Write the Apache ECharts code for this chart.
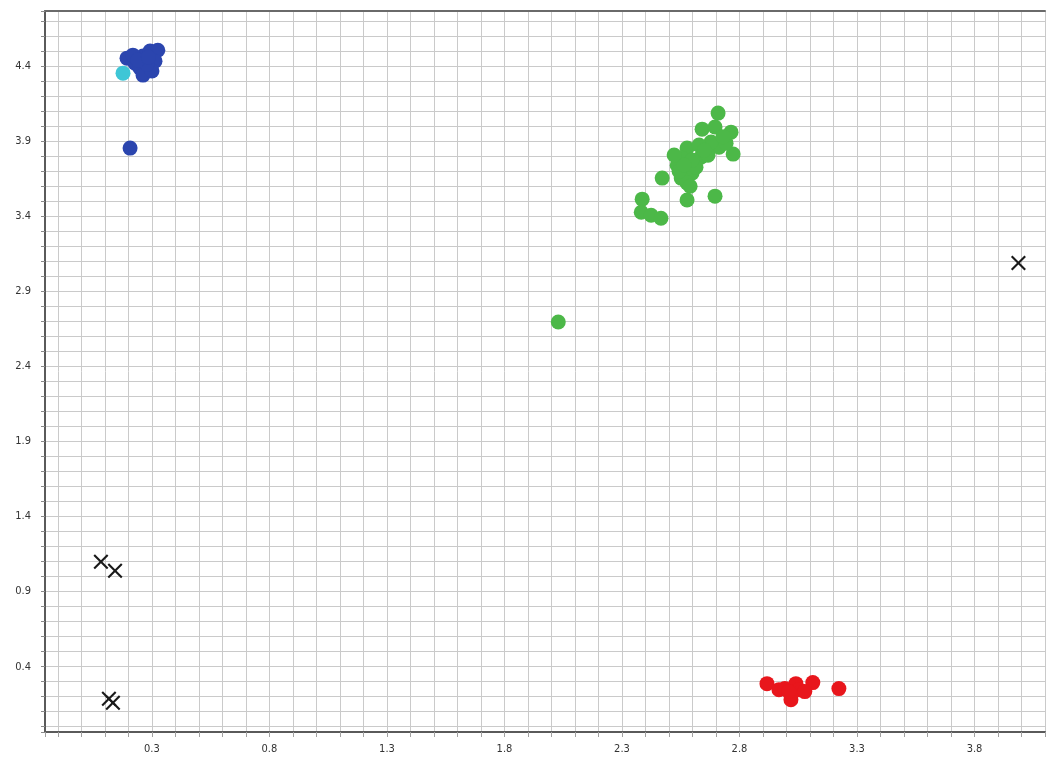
<!DOCTYPE html>
<html>
<head>
<meta charset="utf-8">
<script src="https://cdn.jsdelivr.net/npm/echarts@6/dist/echarts.min.js"></script>
<style>
  html, body { margin: 0; padding: 0; background: #ffffff; }
  #chart { width: 1048px; height: 762px; }
</style>
</head>
<body>
<div id="chart"></div>
<script>
// Cluster points as [x, y]
const bluePoints = [
  [0.194, 4.453], [0.228, 4.420], [0.262, 4.467], [0.292, 4.500], [0.325, 4.506],
  [0.313, 4.433], [0.249, 4.387], [0.262, 4.340], [0.300, 4.367], [0.279, 4.413],
  [0.219, 4.473], [0.240, 4.440], [0.285, 4.460],
  [0.207, 3.854]
];
const cyanPoints = [
  [0.177, 4.353]
];
const greenPoints = [
  [2.709, 4.087], [2.641, 3.980], [2.696, 3.994], [2.764, 3.960], [2.773, 3.814],
  [2.713, 3.860], [2.679, 3.894], [2.636, 3.794], [2.577, 3.854], [2.556, 3.787],
  [2.535, 3.740], [2.598, 3.687], [2.552, 3.654], [2.577, 3.621], [2.471, 3.654],
  [2.577, 3.508], [2.696, 3.534], [2.386, 3.514], [2.382, 3.427], [2.424, 3.407],
  [2.466, 3.387], [2.666, 3.807], [2.615, 3.727], [2.543, 3.700], [2.743, 3.887],
  [2.598, 3.774], [2.564, 3.741], [2.628, 3.874], [2.522, 3.808], [2.590, 3.600],
  [2.650, 3.840], [2.730, 3.930],
  [2.029, 2.696]
];
const redPoints = [
  [2.917, 0.287], [2.968, 0.247], [2.993, 0.254], [3.040, 0.287], [3.019, 0.180],
  [3.053, 0.247], [3.112, 0.294], [3.223, 0.254], [3.078, 0.234], [3.010, 0.234]
];
const crossPoints = [
  [0.083, 1.099], [0.143, 1.039], [0.117, 0.187], [0.134, 0.160], [3.987, 3.089]
];

// Axis labels printed every 0.5
const xTickLabels = ['0.3', '0.8', '1.3', '1.8', '2.3', '2.8', '3.3', '3.8'];
const yTickLabels = ['0.4', '0.9', '1.4', '1.9', '2.4', '2.9', '3.4', '3.9', '4.4'];

const X_MIN = -0.155, X_MAX = 4.10;
const Y_MIN = -0.035, Y_MAX = 4.767;

const labelFont = "'Liberation Sans Narrow', 'Arial Narrow', 'DejaVu Sans Condensed', sans-serif";

// Show a tick label only when the tick sits on the 0.1 grid and is in the list
function pickLabel(list) {
  return function (v) {
    if (Math.abs(v * 10 - Math.round(v * 10)) > 1e-6) return '';
    const s = (Math.round(v * 10) / 10).toFixed(1);
    return list.indexOf(s) >= 0 ? s : '';
  };
}

// X-shaped marker outline (filled polygon)
const crossPath = 'path://M0,1.6L1.6,0L8,6.4L14.4,0L16,1.6L9.6,8L16,14.4L14.4,16L8,9.6L1.6,16L0,14.4L6.4,8Z';

const chart = echarts.init(document.getElementById('chart'), null, { renderer: 'canvas' });

function dotSeries(data, color) {
  return {
    type: 'scatter',
    data: data,
    symbol: 'circle',
    symbolSize: 15,
    itemStyle: { color: color, opacity: 1 },
    emphasis: { disabled: true },
    silent: true
  };
}

chart.setOption({
  animation: false,
  backgroundColor: '#ffffff',
  grid: { left: 45, right: 0, top: 11, bottom: 30, containLabel: false },
  xAxis: [{
    type: 'value',
    min: X_MIN,
    max: X_MAX,
    splitNumber: 42,
    position: 'bottom',
    axisLine: { show: true, onZero: false, lineStyle: { color: '#5a5a5a', width: 2 } },
    axisTick: { show: true, length: 5, lineStyle: { color: '#a0a0a0', width: 1 } },
    axisLabel: {
      show: true, margin: 12, color: '#333333', fontSize: 11, fontFamily: labelFont,
      formatter: pickLabel(xTickLabels), showMinLabel: true, showMaxLabel: true
    },
    splitLine: { show: true, lineStyle: { color: '#cacaca', width: 1 } }
  }, {
    type: 'value',
    min: X_MIN,
    max: X_MAX,
    position: 'top',
    axisLine: { show: true, onZero: false, lineStyle: { color: '#6a6a6a', width: 2 } },
    axisTick: { show: false },
    axisLabel: { show: false },
    splitLine: { show: false }
  }],
  yAxis: {
    type: 'value',
    min: Y_MIN,
    max: Y_MAX,
    splitNumber: 48,
    axisLine: { show: true, onZero: false, lineStyle: { color: '#5a5a5a', width: 2 } },
    axisTick: { show: true, length: 4, lineStyle: { color: '#8a8a8a', width: 1 } },
    axisLabel: {
      show: true, margin: 14, color: '#333333', fontSize: 11, fontFamily: labelFont,
      formatter: pickLabel(yTickLabels), showMinLabel: true, showMaxLabel: true
    },
    splitLine: { show: true, lineStyle: { color: '#cacaca', width: 1 } }
  },
  series: [
    dotSeries(greenPoints, '#4cb848'),
    dotSeries(redPoints, '#e8161c'),
    dotSeries(bluePoints, '#2b45ae'),
    dotSeries(cyanPoints, '#3ec6d6'),
    {
      type: 'scatter',
      data: crossPoints,
      symbol: crossPath,
      symbolSize: 15,
      itemStyle: { color: '#1a1a1a', opacity: 1 },
      emphasis: { disabled: true },
      silent: true
    }
  ]
});
</script>
</body>
</html>
